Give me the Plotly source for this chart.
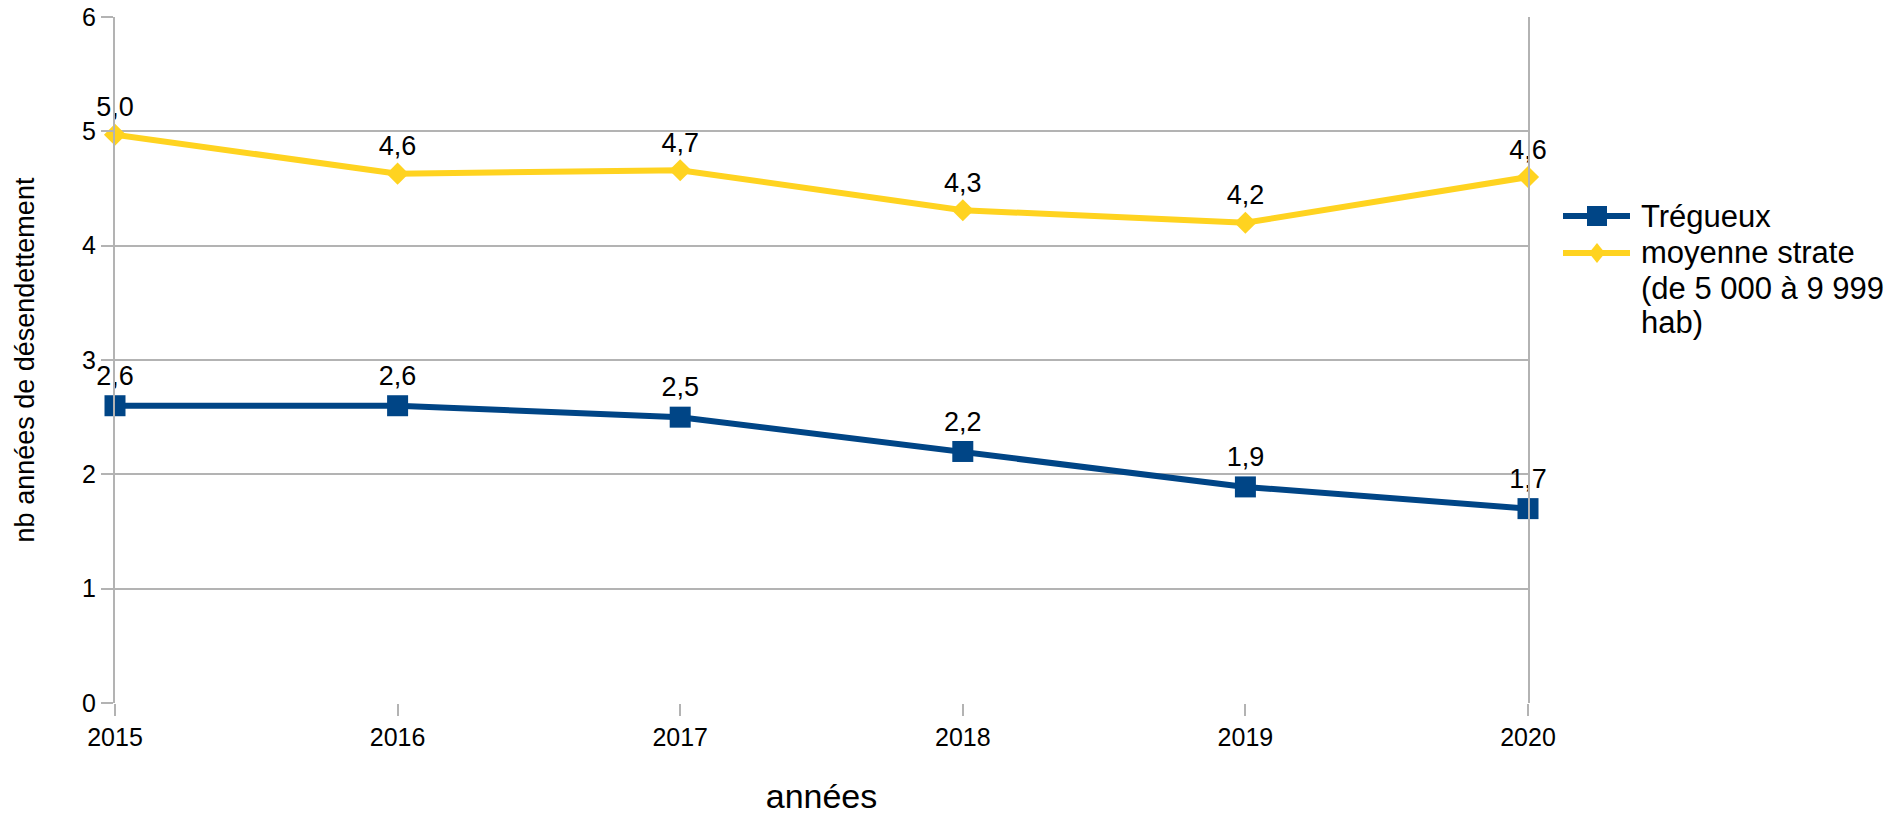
import plotly.graph_objects as go

years = [2015, 2016, 2017, 2018, 2019, 2020]
tregueux = [2.60, 2.60, 2.50, 2.20, 1.89, 1.70]
moyenne = [4.97, 4.63, 4.66, 4.31, 4.20, 4.60]
y_ticks = [0, 1, 2, 3, 4, 5, 6]
legend_tregueux = "Trégueux"
legend_moyenne = ["moyenne strate", "(de 5 000 à 9 999", "hab)"]

BLUE = "#004586"
YELLOW = "#ffd320"
GRID = "#b3b3b3"
FONT = "Liberation Sans, Arial, sans-serif"

W, H = 1893, 815
ML, MT, MR, MB = 115, 17, 365, 112
PW, PH = W - ML - MR, H - MT - MB


def px_x(wx):
    # window pixel x -> paper coordinate
    return (wx - ML) / PW


def px_y(wy):
    return (H - MB - wy) / PH


fig = go.Figure()
fig.add_trace(go.Scatter(
    x=years, y=tregueux, name=legend_tregueux,
    mode="lines+markers+text",
    line=dict(color=BLUE, width=6),
    marker=dict(symbol="square", size=21, color=BLUE, line=dict(width=0)),
    texttemplate="%{y:.1f}", textposition="top center",
    textfont=dict(size=27, color="#000000", family=FONT),
    cliponaxis=False,
))
fig.add_trace(go.Scatter(
    x=years, y=moyenne, name=" ".join(legend_moyenne),
    mode="lines+markers+text",
    line=dict(color=YELLOW, width=6),
    marker=dict(symbol="diamond", size=17, color=YELLOW, line=dict(width=0)),
    texttemplate="%{y:.1f}", textposition="top center",
    textfont=dict(size=27, color="#000000", family=FONT),
    cliponaxis=False,
))

# manual legend (symbols + text)
sym_x0, sym_x1, sym_cx = px_x(1563), px_x(1630), px_x(1597)
text_x = px_x(1639)
row1_y, row2_y = px_y(216), px_y(253)
shapes = []
shapes.append(dict(type="line", xref="paper", yref="paper", x0=sym_x0, x1=sym_x1,
                   y0=row1_y, y1=row1_y, line=dict(color=BLUE, width=6)))
hx, hy = 10 / PW, 10 / PH
shapes.append(dict(type="rect", xref="paper", yref="paper",
                   x0=sym_cx - hx, x1=sym_cx + hx, y0=row1_y - hy, y1=row1_y + hy,
                   fillcolor=BLUE, line=dict(width=0)))
shapes.append(dict(type="line", xref="paper", yref="paper", x0=sym_x0, x1=sym_x1,
                   y0=row2_y, y1=row2_y, line=dict(color=YELLOW, width=6)))
dx, dy = 8 / PW, 10 / PH
shapes.append(dict(type="path", xref="paper", yref="paper",
                   path=f"M {sym_cx - dx} {row2_y} L {sym_cx} {row2_y + dy} "
                        f"L {sym_cx + dx} {row2_y} L {sym_cx} {row2_y - dy} Z",
                   fillcolor=YELLOW, line=dict(width=0)))

annotations = []
legend_lines = [(legend_tregueux, 216)] + list(zip(legend_moyenne, [253, 288, 323]))
for txt, wy in legend_lines:
    annotations.append(dict(text=txt, xref="paper", yref="paper", x=text_x, y=px_y(wy),
                            xanchor="left", yanchor="middle", showarrow=False,
                            font=dict(size=31, family=FONT, color="#000000")))

fig.update_layout(
    width=W, height=H,
    margin=dict(l=ML, r=MR, t=MT, b=MB, autoexpand=False),
    paper_bgcolor="white", plot_bgcolor="white",
    separators=", ",
    font=dict(family=FONT, color="#000000", size=25),
    showlegend=False,
    shapes=shapes,
    annotations=annotations,
    xaxis=dict(
        range=[2015, 2020], tickvals=years, ticktext=[str(y) for y in years],
        showgrid=False, zeroline=False, showline=False, automargin=False,
        ticks="outside", ticklen=12, tickcolor=GRID, tickwidth=2,
        tickfont=dict(size=25),
        title=dict(text="années", font=dict(size=34), standoff=37),
    ),
    yaxis=dict(
        range=[0, 6], tickvals=y_ticks, ticktext=[str(v) for v in y_ticks],
        automargin=False,
        showgrid=True, gridcolor=GRID, gridwidth=2,
        zeroline=False, showline=True, mirror=True, linecolor=GRID, linewidth=2,
        ticks="outside", ticklen=12, tickcolor=GRID, tickwidth=2,
        tickfont=dict(size=25),
        title=dict(text="nb années de désendettement", font=dict(size=27), standoff=40),
    ),
)

fig.write_html("out.html", config={"displayModeBar": False},
               post_script="document.body.style.margin='0';")
